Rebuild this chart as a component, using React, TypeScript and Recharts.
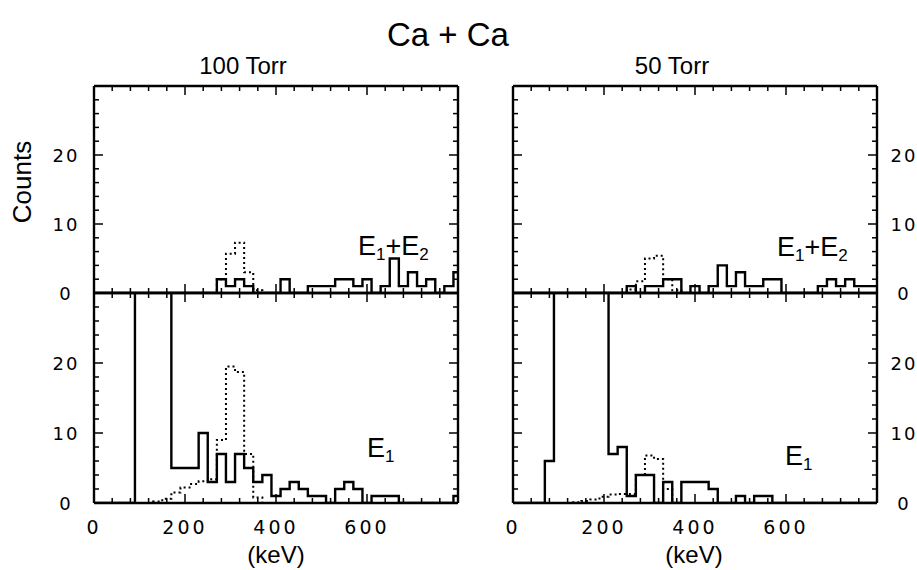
import React from "react";
import { LineChart, Line, XAxis, YAxis, ReferenceLine } from "recharts";

// bin centres (keV), 20 keV bins
const energy = [
  0, 20, 40, 60, 80, 100, 120, 140, 160, 180,
  200, 220, 240, 260, 280, 300, 320, 340, 360, 380,
  400, 420, 440, 460, 480, 500, 520, 540, 560, 580,
  600, 620, 640, 660, 680, 700, 720, 740, 760, 780,
  800,
];

const xTicks = [0, 40, 80, 120, 160, 200, 240, 280, 320, 360, 400, 440, 480, 520, 560, 600, 640, 680, 720, 760, 800];
const xLabelTicks = [0, 200, 400, 600];
const yTicks = [0, 2, 4, 6, 8, 10, 12, 14, 16, 18, 20, 22, 24, 26, 28, 30];
const yLabelTicks = [0, 10, 20];

// 100 Torr, E1+E2
const sum100Solid = [
  0, 0, 0, 0, 0, 0, 0, 0, 0, 0,
  0, 0, 0, 0, 2, 1, 2, 1, 0, 0,
  0, 2, 0, 0, 1, 1, 1, 2, 2, 1,
  2, 0, 1, 5, 1, 3, 1, 2, 0, 1,
  3,
];
const sum100Dotted = [
  0, 0, 0, 0, 0, 0, 0, 0, 0, 0,
  0, 0, 0, 0, 2, 5.7, 7.3, 3, 0.4, 0,
  0, 0, 0, 0, 0, 0, 0, 0, 0, 0,
  0, 0, 0, 0, 0, 0, 0, 0, 0, 0,
  0,
];
// 100 Torr, E1 (off-scale bins read as > 30)
const e1_100Solid = [
  0, 0, 0, 0, 0, 45, 45, 45, 45, 5,
  5, 5, 10, 3, 7, 3, 7, 5, 3, 4,
  1, 2, 3, 2, 1, 1, 0, 2, 3, 2,
  0, 1, 1, 1, 0, 0, 0, 0, 0, 0,
  1,
];
const e1_100Dotted = [
  0, 0, 0, 0, 0, 0, 0, 0.2, 0.6, 1.5,
  2.2, 2.7, 3.1, 3.4, 9, 19.5, 18.7, 7, 0.8, 0,
  0, 0, 0, 0, 0, 0, 0, 0, 0, 0,
  0, 0, 0, 0, 0, 0, 0, 0, 0, 0,
  0,
];
// 50 Torr, E1+E2
const sum50Solid = [
  0, 0, 0, 0, 0, 0, 0, 0, 0, 0,
  0, 0, 0, 1, 0, 1, 1, 2, 2, 0,
  1, 0, 1, 4, 1, 3, 1, 1, 2, 2,
  0, 0, 0, 0, 1, 2, 1, 2, 1, 1,
  1,
];
const sum50Dotted = [
  0, 0, 0, 0, 0, 0, 0, 0, 0, 0,
  0, 0, 0, 0.5, 1.7, 5, 5.4, 2, 0.4, 0,
  0, 0, 0, 0, 0, 0, 0, 0, 0, 0,
  0, 0, 0, 0, 0, 0, 0, 0, 0, 0,
  0,
];
// 50 Torr, E1
const e1_50Solid = [
  0, 0, 0, 0, 6, 45, 45, 45, 45, 45,
  45, 7, 8, 1, 4, 4, 0, 3, 0, 3,
  3, 3, 2, 0, 0, 1, 0, 1, 1, 0,
  0, 0, 0, 0, 0, 0, 0, 0, 0, 0,
  0,
];
const e1_50Dotted = [
  0, 0, 0, 0, 0, 0, 0, 0.1, 0.3, 0.5,
  0.9, 1.2, 1.3, 1.3, 4, 6.8, 6.3, 2, 0, 0,
  0, 0, 0, 0, 0, 0, 0, 0, 0, 0,
  0, 0, 0, 0, 0, 0, 0, 0, 0, 0,
  0,
];

const PLOT_W = 364;
const PAD = 60;
const narrow = "'Liberation Sans Narrow', 'Liberation Sans', Arial, sans-serif";
const tickFont = "'DejaVu Sans', sans-serif";

function XTick(props: any) {
  const { x, y, payload, h, labels } = props;
  const v = payload.value;
  const len = v % 200 === 0 ? 9 : 5;
  return (
    <g>
      <line x1={x} x2={x} y1={y} y2={y - len} stroke="#000" strokeWidth={1.5} />
      <line x1={x} x2={x} y1={y - h} y2={y - h + len} stroke="#000" strokeWidth={1.5} />
      {labels && xLabelTicks.includes(v) && (
        <text x={x} y={y + 31} textAnchor="middle" fontSize={19} letterSpacing={3} fontFamily={tickFont} fill="#000">
          {v}
        </text>
      )}
    </g>
  );
}

function YTick(props: any) {
  const { x, y, payload, side, shown } = props;
  const v = payload.value;
  const len = v % 10 === 0 ? 9 : 5;
  const lx = side === "left" ? x - 28 : x + PLOT_W + 27;
  return (
    <g>
      <line x1={x} x2={x + len} y1={y} y2={y} stroke="#000" strokeWidth={1.5} />
      <line x1={x + PLOT_W} x2={x + PLOT_W - len} y1={y} y2={y} stroke="#000" strokeWidth={1.5} />
      {shown.includes(v) && (
        <text x={lx} y={y + 7} textAnchor="middle" fontSize={18} letterSpacing={2} fontFamily={tickFont} fill="#000">
          {v}
        </text>
      )}
    </g>
  );
}

function Panel({ left, top, height, solid, dotted, side, xLabels }: any) {
  const data = energy.map((e, i) => ({ e, solid: solid[i], dotted: dotted[i] }));
  return (
    <div style={{ position: "absolute", left: left - PAD, top: top - PAD }}>
      <LineChart
        width={PLOT_W + 2 * PAD}
        height={height + 2 * PAD}
        data={data}
        margin={{ top: PAD, right: PAD, bottom: PAD - 1, left: PAD - 1 }}
      >
        <XAxis
          dataKey="e"
          type="number"
          domain={[0, 800]}
          ticks={xTicks}
          interval={0}
          height={1}
          tickSize={0}
          tickMargin={0}
          tickLine={false}
          allowDataOverflow
          axisLine={{ stroke: "#000", strokeWidth: 2.4 }}
          tick={(p: any) => <XTick {...p} h={height} labels={xLabels} />}
        />
        <YAxis
          type="number"
          domain={[0, 30]}
          ticks={yTicks}
          interval={0}
          width={1}
          tickSize={0}
          tickMargin={0}
          tickLine={false}
          allowDataOverflow
          axisLine={{ stroke: "#000", strokeWidth: 2.4 }}
          tick={(p: any) => <YTick {...p} side={side} shown={yLabelTicks} />}
        />
        <ReferenceLine y={30} stroke="#000" strokeWidth={2.4} />
        <ReferenceLine x={800} stroke="#000" strokeWidth={2.4} />
        <Line type="step" dataKey="dotted" stroke="#000" strokeWidth={2} strokeDasharray="2 3" dot={false} isAnimationActive={false} />
        <Line type="step" dataKey="solid" stroke="#000" strokeWidth={2.4} dot={false} isAnimationActive={false} />
      </LineChart>
    </div>
  );
}

function Label({ x, y, sub2 }: { x: number; y: number; sub2: boolean }) {
  return (
    <text x={x} y={y} fontSize={27} fontFamily={narrow} fill="#000">
      E<tspan fontSize={17} dy={5}>1</tspan>
      {sub2 && (
        <>
          <tspan dy={-5}>+E</tspan>
          <tspan fontSize={17} dy={5}>2</tspan>
        </>
      )}
    </text>
  );
}

export default function App() {
  return (
    <div style={{ position: "absolute", left: 0, top: 0, width: 917, height: 570, background: "#fff" }}>
      <Panel left={94} top={86} height={207} solid={sum100Solid} dotted={sum100Dotted} side="left" xLabels={false} />
      <Panel left={94} top={293} height={210} solid={e1_100Solid} dotted={e1_100Dotted} side="left" xLabels={true} />
      <Panel left={513} top={86} height={207} solid={sum50Solid} dotted={sum50Dotted} side="right" xLabels={false} />
      <Panel left={513} top={293} height={210} solid={e1_50Solid} dotted={e1_50Dotted} side="right" xLabels={true} />
      <svg width={917} height={570} style={{ position: "absolute", left: 0, top: 0, pointerEvents: "none" }}>
        <text x={448} y={46} textAnchor="middle" fontSize={33} fontFamily={narrow} fill="#000">Ca + Ca</text>
        <text x={243} y={74} textAnchor="middle" fontSize={24} fontFamily={narrow} fill="#000">100 Torr</text>
        <text x={672} y={74} textAnchor="middle" fontSize={24} fontFamily={narrow} fill="#000">50 Torr</text>
        <text x={0} y={0} transform="translate(31,182) rotate(-90)" textAnchor="middle" fontSize={26} fontFamily={narrow} fill="#000">Counts</text>
        <text x={276} y={563} textAnchor="middle" fontSize={24} fontFamily={narrow} fill="#000">(keV)</text>
        <text x={694} y={563} textAnchor="middle" fontSize={24} fontFamily={narrow} fill="#000">(keV)</text>
        <Label x={358} y={255} sub2={true} />
        <Label x={777} y={256} sub2={true} />
        <Label x={367} y={457} sub2={false} />
        <Label x={785} y={465} sub2={false} />
      </svg>
    </div>
  );
}
